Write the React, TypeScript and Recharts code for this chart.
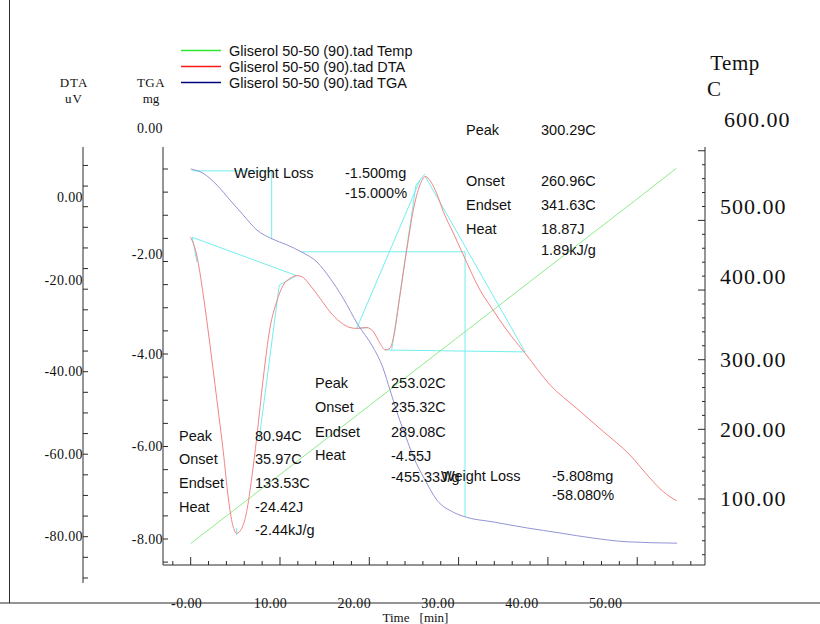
import React from 'react';
import { LineChart, Line, XAxis, YAxis, ReferenceLine, Legend } from 'recharts';

const SERIF = '"Liberation Serif", "Times New Roman", serif';
const SANS = '"Liberation Sans", Arial, sans-serif';

const seriesNames = [
  'Gliserol 50-50 (90).tad Temp',
  'Gliserol 50-50 (90).tad DTA',
  'Gliserol 50-50 (90).tad TGA',
];
const legendColors = ['#2fe62f', '#ff1a1a', '#000080'];

// temperature program (C) vs time (min)
const tempTime = [0, 10, 20, 30, 40, 50, 54.4];
const tempValue = [36, 135, 234, 333, 432, 531, 575];

// DTA signal (uV)
const dtaTime = [
  0, 0.67, 1.41, 2.16, 2.91, 3.65, 4.21, 4.7, 5.15, 5.71, 6.27, 6.83, 7.39, 8.13, 8.88, 9.63,
  10.37, 11.12, 11.87, 12.61, 13.36, 14.48, 15.6, 16.72, 17.84, 18.59, 19.71, 20.45, 21.2, 21.76,
  22.32, 22.69, 23.44, 24.19, 24.93, 25.68, 26.24, 27.55, 28.29, 29.41, 30.53, 32.4, 33.71, 35.39,
  37.44, 40.24, 43.23, 46.2, 49.19, 51.43, 52.92, 54.42,
];
const dtaValue = [
  -7.4, -11.7, -21.4, -33.5, -46.4, -59.4, -70.6, -77.1, -79.2, -78.0, -73.9, -65.8, -56.1, -41.5, -29.4, -23.0,
  -19.0, -17.4, -16.7, -17.2, -19.0, -22.2, -25.5, -27.9, -29.3, -29.5, -29.3, -30.3, -33.1, -34.7,
  -34.3, -31.9, -21.4, -10.5, -0.8, 5.3, 7.3, 3.2, -1.2, -6.4, -11.7, -20.2, -24.6, -29.9,
  -35.5, -43.2, -48.9, -54.5, -60.2, -65.8, -69.1, -71.3,
];

// TGA mass change (mg)
const tgaTime = [
  0, 1.38, 2.95, 4.4, 5.86, 7.42, 9.1, 10.78, 12.46, 14.14, 15.6, 17.06, 18.74, 20.41, 21.53,
  22.32, 23.21, 24.11, 25.0, 26.12, 27.58, 29.4, 30.7, 33.85, 37.65, 41.35, 45.05, 48.86, 54.46,
];
const tgaValue = [
  0, -0.09, -0.35, -0.67, -0.99, -1.32, -1.51, -1.64, -1.8, -2.01, -2.36, -2.79, -3.37, -3.85, -4.3,
  -4.78, -5.32, -5.8, -6.25, -6.68, -7.16, -7.42, -7.52, -7.63, -7.76, -7.87, -7.98, -8.06, -8.09,
];

// axis ticks
const timeTicks = [-2, 0, 2, 4, 6, 8, 10, 12, 14, 16, 18, 20, 22, 24, 26, 28, 30, 32, 34, 36, 38, 40, 42, 44, 46, 48, 50, 52, 54, 56];
const timeLabelValues = [0, 10, 20, 30, 40, 50];
const timeLabelText = ['-0.00', '10.00', '20.00', '30.00', '40.00', '50.00'];

const dtaTicks = [10, 5, 0, -5, -10, -15, -20, -25, -30, -35, -40, -45, -50, -55, -60, -65, -70, -75, -80, -85];
const dtaLabelValues = [0, -20, -40, -60, -80];
const dtaLabelText = ['0.00', '-20.00', '-40.00', '-60.00', '-80.00'];

const tgaTicks = [0, -0.5, -1, -1.5, -2, -2.5, -3, -3.5, -4, -4.5, -5, -5.5, -6, -6.5, -7, -7.5, -8, -8.5];
const tgaLabelValues = [0, -2, -4, -6, -8];
const tgaLabelText = ['0.00', '-2.00', '-4.00', '-6.00', '-8.00'];

const tempTicks = [20, 40, 60, 80, 100, 120, 140, 160, 180, 200, 220, 240, 260, 280, 300, 320, 340, 360, 380, 400, 420, 440, 460, 480, 500, 520, 540, 560, 580, 600];
const tempLabelValues = [100, 200, 300, 400, 500, 600];
const tempLabelText = ['100.00', '200.00', '300.00', '400.00', '500.00', '600.00'];

// analysis marks [t1, v1, t2, v2]
const tgaMarks = [
  [0.18, -0.04, 9.07, -0.04],
  [9.07, -0.04, 9.07, -1.52],
  [12.43, -1.79, 30.72, -1.79],
  [30.72, -1.79, 30.72, -7.52],
];
const dtaMarks = [
  [0.18, -7.42, 11.87, -16.73],
  [11.87, -16.73, 9.92, -18.98],
  [9.92, -18.98, 7.65, -56.6],
  [0.18, -7.42, 0.7, -13.4],
  [5.15, -77.9, 5.15, -79.6],
  [18.59, -29.48, 19.85, -29.33],
  [18.59, -29.48, 25.68, 6.47],
  [21.76, -34.74, 37.44, -35.2],
  [22.51, -34.74, 25.23, 5.26],
  [25.23, 5.26, 26.24, 7.93],
  [26.24, 7.44, 37.44, -35.2],
];

const tempData = tempTime.map((t, i) => ({ t, v: tempValue[i] }));
const dtaData = dtaTime.map((t, i) => ({ t, v: dtaValue[i] }));
const tgaData = tgaTime.map((t, i) => ({ t, v: tgaValue[i] }));

const AXIS = '#2a2a2a';
const CYAN = '#72eeee';
// left axes are stacked by id: the first id sits next to the plot
const TGA_ID = 'a_tga';
const DTA_ID = 'b_dta';

function TimeTick(props: any) {
  const { x, y, payload } = props;
  const v = payload.value;
  const i = timeLabelValues.indexOf(v);
  return (
    <g>
      <line x1={x} y1={y} x2={x} y2={y - (i >= 0 ? 8 : 4)} stroke={AXIS} />
      {i >= 0 && (
        <text x={x - 4 - 0.55 * v} y={y + 38} textAnchor="middle" dominantBaseline="central" fontFamily={SERIF} fontSize={14} letterSpacing={0.4} fill="#111">
          {timeLabelText[i]}
        </text>
      )}
    </g>
  );
}

function DtaTick(props: any) {
  const { x, y, payload } = props;
  const v = payload.value;
  const i = dtaLabelValues.indexOf(v);
  const dy = v === 0 || v === -20 ? -9 : 0;
  return (
    <g>
      <line x1={x} y1={y} x2={x + 5} y2={y} stroke={AXIS} />
      {i >= 0 && (
        <text x={x} y={y + dy} textAnchor="end" dominantBaseline="central" fontFamily={SERIF} fontSize={14} letterSpacing={0.4} fill="#111">
          {dtaLabelText[i]}
        </text>
      )}
    </g>
  );
}

function TgaTick(props: any) {
  const { x, y, payload } = props;
  const v = payload.value;
  const i = tgaLabelValues.indexOf(v);
  const dy = v === 0 ? -41 : v === -2 ? -7 : 0;
  return (
    <g>
      <line x1={x} y1={y} x2={x + 5} y2={y} stroke={AXIS} />
      {i >= 0 && (
        <text x={x} y={y + dy} textAnchor="end" dominantBaseline="central" fontFamily={SERIF} fontSize={14} letterSpacing={0.4} fill="#111">
          {tgaLabelText[i]}
        </text>
      )}
    </g>
  );
}

function TempTick(props: any) {
  const { x, y, payload } = props;
  const v = payload.value;
  const i = tempLabelValues.indexOf(v);
  const dy = v === 600 ? -31 : v === 500 || v === 400 ? -14 : 0;
  const dx = v === 600 ? 19 : 15;
  return (
    <g>
      <line x1={x} y1={y} x2={x - (i >= 0 ? 7 : 3)} y2={y} stroke={AXIS} />
      {i >= 0 && (
        <text x={x + dx} y={y + dy} textAnchor="start" dominantBaseline="central" fontFamily={SERIF} fontSize={22} letterSpacing={1} fill="#111">
          {tempLabelText[i]}
        </text>
      )}
    </g>
  );
}

function LegendBox() {
  return (
    <svg width={260} height={52}>
      {seriesNames.map((name, i) => (
        <g key={name}>
          <line x1={3} x2={43} y1={9.5 + i * 16} y2={9.5 + i * 16} stroke={legendColors[i]} strokeWidth={1.3} />
          <text x={51} y={9.5 + i * 16} dominantBaseline="central" fontFamily={SANS} fontSize={14.5} fill="#111">
            {name}
          </text>
        </g>
      ))}
    </svg>
  );
}

const notes = [
  { x: 466, y: 130, s: 'Peak' }, { x: 541, y: 130, s: '300.29C' },
  { x: 466, y: 181, s: 'Onset' }, { x: 541, y: 181, s: '260.96C' },
  { x: 466, y: 205, s: 'Endset' }, { x: 541, y: 205, s: '341.63C' },
  { x: 466, y: 229, s: 'Heat' }, { x: 541, y: 229, s: '18.87J' },
  { x: 541, y: 250, s: '1.89kJ/g' },
  { x: 234, y: 173, s: 'Weight Loss' }, { x: 345, y: 173, s: '-1.500mg' },
  { x: 345, y: 193, s: '-15.000%' },
  { x: 315, y: 383, s: 'Peak' }, { x: 391, y: 383, s: '253.02C' },
  { x: 315, y: 407, s: 'Onset' }, { x: 391, y: 407, s: '235.32C' },
  { x: 315, y: 432, s: 'Endset' }, { x: 391, y: 432, s: '289.08C' },
  { x: 315, y: 455, s: 'Heat' }, { x: 391, y: 456, s: '-4.55J' },
  { x: 391, y: 477, s: '-455.33J/g' },
  { x: 179, y: 436, s: 'Peak' }, { x: 255, y: 436, s: '80.94C' },
  { x: 179, y: 459, s: 'Onset' }, { x: 255, y: 459, s: '35.97C' },
  { x: 179, y: 483, s: 'Endset' }, { x: 255, y: 483, s: '133.53C' },
  { x: 179, y: 507, s: 'Heat' }, { x: 255, y: 507, s: '-24.42J' },
  { x: 255, y: 530, s: '-2.44kJ/g' },
  { x: 441, y: 476, s: 'Weight Loss' }, { x: 552, y: 476, s: '-5.808mg' },
  { x: 552, y: 495, s: '-58.080%' },
];

export default function App() {
  return (
    <div style={{ position: 'absolute', left: 0, top: 0, width: 820, height: 624, background: '#fff' }}>
      <LineChart width={820} height={624} margin={{ top: 147, right: 0, bottom: 0, left: 0 }}>
        <XAxis
          xAxisId="t" dataKey="t" type="number" domain={[-3.1, 57.59]} ticks={timeTicks} interval={0}
          allowDataOverflow height={59} tickSize={0} tickMargin={0} tickLine={false}
          axisLine={{ stroke: AXIS }} tick={<TimeTick />}
        />
        <XAxis
          xAxisId="top" orientation="top" type="number" domain={[0, 1]} height={0}
          tick={false} tickLine={false} axisLine={{ stroke: '#444' }}
        />
        <YAxis
          yAxisId={TGA_ID} orientation="left" width={80} type="number" domain={[-8.562, 0.476]} ticks={tgaTicks}
          interval={0} allowDataOverflow tickSize={0} tickMargin={0} tickLine={false}
          axisLine={{ stroke: AXIS }} tick={<TgaTick />}
        />
        <YAxis
          yAxisId={DTA_ID} orientation="left" width={83} type="number" domain={[-86.86, 14.47]} ticks={dtaTicks}
          interval={0} allowDataOverflow tickSize={0} tickMargin={0} tickLine={false}
          axisLine={{ stroke: AXIS }} tick={<DtaTick />}
        />
        <YAxis
          yAxisId="temp" orientation="right" width={115} type="number" domain={[5.2, 605.4]} ticks={tempTicks}
          interval={0} allowDataOverflow tickSize={0} tickMargin={0} tickLine={false}
          axisLine={{ stroke: AXIS }} tick={<TempTick />}
        />
        {tgaMarks.map((s, i) => (
          <ReferenceLine key={'w' + i} xAxisId="t" yAxisId={TGA_ID} ifOverflow="visible"
            segment={[{ x: s[0], y: s[1] }, { x: s[2], y: s[3] }]} stroke={CYAN} strokeWidth={1} />
        ))}
        {dtaMarks.map((s, i) => (
          <ReferenceLine key={'d' + i} xAxisId="t" yAxisId={DTA_ID} ifOverflow="visible"
            segment={[{ x: s[0], y: s[1] }, { x: s[2], y: s[3] }]} stroke={CYAN} strokeWidth={1} />
        ))}
        <Line xAxisId="t" yAxisId="temp" data={tempData} dataKey="v" name={seriesNames[0]} type="linear"
          stroke="#8ced8c" strokeWidth={1} dot={false} isAnimationActive={false} />
        <Line xAxisId="t" yAxisId={DTA_ID} data={dtaData} dataKey="v" name={seriesNames[1]} type="monotone"
          stroke="#f48484" strokeWidth={1} dot={false} isAnimationActive={false} />
        <Line xAxisId="t" yAxisId={TGA_ID} data={tgaData} dataKey="v" name={seriesNames[2]} type="monotone"
          stroke="#9494d6" strokeWidth={1} dot={false} isAnimationActive={false} />
        <Legend
          layout="vertical" align="center" verticalAlign="middle"
          wrapperStyle={{ left: 178, top: 41, width: 260, height: 52 }}
          content={() => <LegendBox />}
        />
      </LineChart>
      <svg width={820} height={624} style={{ position: 'absolute', left: 0, top: 0, pointerEvents: 'none' }}>
        <line x1={9.5} y1={0} x2={9.5} y2={603} stroke={AXIS} />
        <line x1={0} y1={603} x2={820} y2={603} stroke={AXIS} />
        <line x1={83} y1={565} x2={83} y2={583} stroke={AXIS} />
        <line x1={83} y1={578} x2={88} y2={578} stroke={AXIS} />
        <g fontFamily={SERIF} fill="#111" textAnchor="middle" dominantBaseline="central">
          <text x={74} y={82} fontSize={13} letterSpacing={1}>DTA</text>
          <text x={74} y={98} fontSize={13} letterSpacing={1}>uV</text>
          <text x={151} y={82} fontSize={13} letterSpacing={0.5}>TGA</text>
          <text x={151} y={98} fontSize={13}>mg</text>
          <text x={735} y={63} fontSize={21} letterSpacing={0.5}>Temp</text>
          <text x={714} y={89} fontSize={21}>C</text>
          <text x={396} y={617} fontSize={13}>Time</text>
          <text x={434} y={617} fontSize={13}>[min]</text>
        </g>
        <g fontFamily={SANS} fontSize={14.5} fill="#111" dominantBaseline="central">
          {notes.map((n, i) => (
            <text key={i} x={n.x} y={n.y}>{n.s}</text>
          ))}
        </g>
      </svg>
    </div>
  );
}
